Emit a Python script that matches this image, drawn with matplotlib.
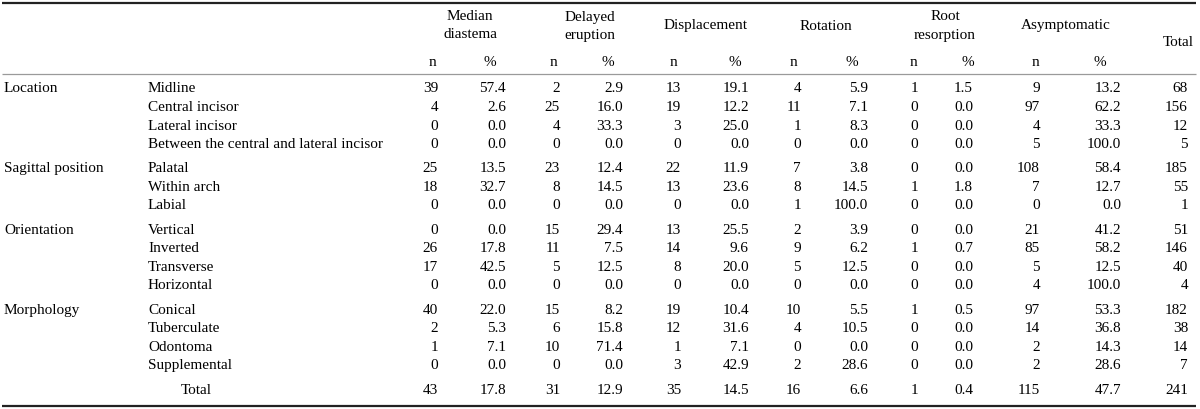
import matplotlib.pyplot as plt

plt.rcParams["font.family"] = ["Liberation Serif", "DejaVu Serif"]

# ---- data ----
groups = ["Location", "Sagittal position", "Orientation", "Morphology"]
subgroups = [
    ["Midline", "Central incisor", "Lateral incisor", "Between the central and lateral incisor"],
    ["Palatal", "Within arch", "Labial"],
    ["Vertical", "Inverted", "Transverse", "Horizontal"],
    ["Conical", "Tuberculate", "Odontoma", "Supplemental"],
]
symptoms = ["Median\ndiastema", "Delayed\neruption", "Displacement", "Rotation",
            "Root\nresorption", "Asymptomatic"]

median_n = [39, 4, 0, 0, 25, 18, 0, 0, 26, 17, 0, 40, 2, 1, 0]
median_pct = [57.4, 2.6, 0.0, 0.0, 13.5, 32.7, 0.0, 0.0, 17.8, 42.5, 0.0, 22.0, 5.3, 7.1, 0.0]
delayed_n = [2, 25, 4, 0, 23, 8, 0, 15, 11, 5, 0, 15, 6, 10, 0]
delayed_pct = [2.9, 16.0, 33.3, 0.0, 12.4, 14.5, 0.0, 29.4, 7.5, 12.5, 0.0, 8.2, 15.8, 71.4, 0.0]
disp_n = [13, 19, 3, 0, 22, 13, 0, 13, 14, 8, 0, 19, 12, 1, 3]
disp_pct = [19.1, 12.2, 25.0, 0.0, 11.9, 23.6, 0.0, 25.5, 9.6, 20.0, 0.0, 10.4, 31.6, 7.1, 42.9]
rot_n = [4, 11, 1, 0, 7, 8, 1, 2, 9, 5, 0, 10, 4, 0, 2]
rot_pct = [5.9, 7.1, 8.3, 0.0, 3.8, 14.5, 100.0, 3.9, 6.2, 12.5, 0.0, 5.5, 10.5, 0.0, 28.6]
root_n = [1, 0, 0, 0, 0, 1, 0, 0, 1, 0, 0, 1, 0, 0, 0]
root_pct = [1.5, 0.0, 0.0, 0.0, 0.0, 1.8, 0.0, 0.0, 0.7, 0.0, 0.0, 0.5, 0.0, 0.0, 0.0]
asym_n = [9, 97, 4, 5, 108, 7, 0, 21, 85, 5, 4, 97, 14, 2, 2]
asym_pct = [13.2, 62.2, 33.3, 100.0, 58.4, 12.7, 0.0, 41.2, 58.2, 12.5, 100.0, 53.3, 36.8, 14.3, 28.6]
row_total = [68, 156, 12, 5, 185, 55, 1, 51, 146, 40, 4, 182, 38, 14, 7]

total_n = [43, 31, 35, 16, 1, 115]
total_pct = [17.8, 12.9, 14.5, 6.6, 0.4, 47.7]
grand_total = 241

counts = [median_n, delayed_n, disp_n, rot_n, root_n, asym_n]
pcts = [median_pct, delayed_pct, disp_pct, rot_pct, root_pct, asym_pct]

# ---- layout (pixels) ----
W, H = 1200, 410
fs = 11
x_group, x_sub = 4, 148
head_cx = [470, 590, 706, 826, 945, 1066]
n_head_cx = [432, 553, 673, 793, 913, 1035]
p_head_cx = [490, 608, 735, 852, 968, 1100]
n_right = [438, 560, 681, 801, 918, 1040]
p_right = [506, 623, 749, 868, 973, 1121]
total_right, total_cx = 1188, 1178
row0, step, gap = 89, 18.5, 6.0

fig = plt.figure(figsize=(12, 4.1), dpi=100)
ax = fig.add_axes([0, 0, 1, 1])
ax.set_xlim(0, W)
ax.set_ylim(H, 0)
ax.axis("off")

# rules
ax.plot([2, 1196], [4, 4], color="#222222", lw=1.6, solid_capstyle="butt")
ax.plot([2, 1196], [75, 75], color="#9a9a9a", lw=0.9, solid_capstyle="butt")
ax.plot([2, 1196], [407, 407], color="#222222", lw=1.6, solid_capstyle="butt")

# header
for i, name in enumerate(symptoms):
    if "\n" in name:
        top, bot = name.split("\n")
        ax.text(head_cx[i], 17, top, ha="center", va="center", fontsize=fs)
        ax.text(head_cx[i], 35, bot, ha="center", va="center", fontsize=fs)
    else:
        ax.text(head_cx[i], 26, name, ha="center", va="center", fontsize=fs)
    ax.text(n_head_cx[i], 62, "n", ha="center", va="center", fontsize=fs)
    ax.text(p_head_cx[i], 62, "%", ha="center", va="center", fontsize=fs)
ax.text(total_cx, 42, "Total", ha="center", va="center", fontsize=fs)

# body
y = row0
k = 0
for g, subs in zip(groups, subgroups):
    ax.text(x_group, y, g, ha="left", va="center", fontsize=fs)
    for s in subs:
        ax.text(x_sub, y, s, ha="left", va="center", fontsize=fs)
        for c in range(len(symptoms)):
            ax.text(n_right[c], y, str(counts[c][k]), ha="right", va="center", fontsize=fs)
            ax.text(p_right[c], y, f"{pcts[c][k]:.1f}", ha="right", va="center", fontsize=fs)
        ax.text(total_right, y, str(row_total[k]), ha="right", va="center", fontsize=fs)
        k += 1
        y += step
    y += gap

# total row
ax.text(196, y, "Total", ha="center", va="center", fontsize=fs)
for c in range(len(symptoms)):
    ax.text(n_right[c], y, str(total_n[c]), ha="right", va="center", fontsize=fs)
    ax.text(p_right[c], y, f"{total_pct[c]:.1f}", ha="right", va="center", fontsize=fs)
ax.text(total_right, y, str(grand_total), ha="right", va="center", fontsize=fs)

fig.savefig("out.png", dpi=100)
